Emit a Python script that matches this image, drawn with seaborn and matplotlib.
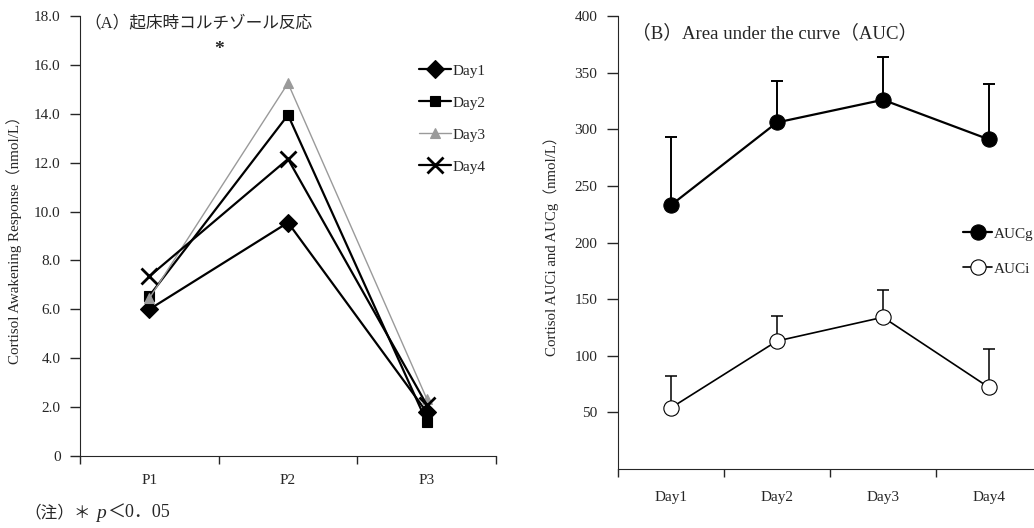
import numpy as np
import matplotlib
matplotlib.use("Agg")
import matplotlib.pyplot as plt
import seaborn as sns

# === DATA ===
points = ["P1", "P2", "P3"]
day1 = [6.0, 9.55, 1.8]
day2 = [6.55, 13.95, 1.4]
day3 = [6.45, 15.25, 2.35]
day4 = [7.35, 12.15, 2.1]

days = ["Day1", "Day2", "Day3", "Day4"]
aucg_mean = [233, 306, 326, 291]
aucg_sd = [60, 37, 38, 49]
auci_mean = [54, 113, 134, 72]
auci_sd = [28, 22, 24, 34]

ytick_vals_a = [0, 2, 4, 6, 8, 10, 12, 14, 16, 18]
ytick_labels_a = ["0", "2.0", "4.0", "6.0", "8.0", "10.0", "12.0", "14.0", "16.0", "18.0"]
ytick_vals_b = [50, 100, 150, 200, 250, 300, 350, 400]

# === STYLE ===
sns.set_style("ticks")
plt.rcParams['font.family'] = ['Liberation Serif', 'Noto Sans CJK JP']

fig = plt.figure(figsize=(10.34, 5.28), dpi=100)
W, H = 1034, 528
axA = fig.add_axes([80 / W, 1 - 456 / H, 416 / W, 440 / H])
axB = fig.add_axes([618 / W, 1 - 469 / H, 424 / W, 453 / H])

# === (A) awakening response ===
xa = np.arange(len(points))
series = [
    (day1, "Day1", "D", "black", 9, 1.6),
    (day2, "Day2", "s", "black", 7, 1.6),
    (day3, "Day3", "^", "#9a9a9a", 7, 1.0),
    (day4, "Day4", "x", "black", 11, 1.6),
]
for vals, lab, mk, col, ms, lw in series:
    sns.lineplot(x=xa, y=vals, ax=axA, color=col, marker=mk, markersize=ms,
                 linewidth=lw, markeredgecolor=col, markeredgewidth=2 if mk == "x" else 0.8,
                 label=lab)

axA.set_xlim(-0.5, len(points) - 0.5)
axA.set_ylim(0, 18)
axA.set_yticks(ytick_vals_a)
axA.set_yticklabels(ytick_labels_a)
axA.set_xticks(xa)
axA.set_xticklabels(points)
axA.set_xticks(np.arange(len(points) + 1) - 0.5, minor=True)
axA.tick_params(axis="x", which="major", length=0, pad=13, labelsize=11)
axA.tick_params(axis="x", which="minor", length=6, width=1, direction="out")
axA.tick_params(axis="y", length=7, width=1, direction="out", labelsize=11, pad=7)
axA.set_ylabel("Cortisol Awakening Response（nmol/L）", fontsize=10.8)
axA.yaxis.set_label_coords(-0.14, 0.5)
axA.text(0.5, 16.65, "*", ha="center", va="center", fontsize=14, fontweight="bold")
axA.text(-0.47, 17.7, "（A）起床時コルチゾール反応", fontsize=12, va="center", ha="left")
sns.despine(ax=axA)
axA.legend(loc="upper left", bbox_to_anchor=(419 / W, 1 - 64 / H),
           bbox_transform=fig.transFigure, frameon=False, fontsize=11,
           handlelength=2.1, handletextpad=0.1, labelspacing=1.2,
           borderpad=0, borderaxespad=0)

# === (B) AUC ===
xb = np.arange(len(days))
sns.lineplot(x=xb, y=aucg_mean, ax=axB, color="black", marker="o", markersize=11,
             linewidth=1.6, markerfacecolor="black", markeredgecolor="black", label="AUCg", zorder=3)
sns.lineplot(x=xb, y=auci_mean, ax=axB, color="black", marker="o", markersize=11,
             linewidth=1.2, markerfacecolor="white", markeredgecolor="black",
             markeredgewidth=0.8, label="AUCi", zorder=3)
axB.errorbar(xb, aucg_mean, yerr=[np.zeros(len(days)), aucg_sd], fmt="none",
             ecolor="black", elinewidth=1.4, capsize=4, capthick=1.4, zorder=2)
axB.errorbar(xb, auci_mean, yerr=[np.zeros(len(days)), auci_sd], fmt="none",
             ecolor="black", elinewidth=1.1, capsize=4, capthick=1.1, zorder=2)

axB.set_xlim(-0.5, len(days) - 0.5)
axB.set_ylim(0, 400)
axB.set_yticks(ytick_vals_b)
axB.set_xticks(xb)
axB.set_xticklabels(days)
axB.set_xticks(np.arange(len(days) + 1) - 0.5, minor=True)
axB.tick_params(axis="x", which="major", length=0, pad=16, labelsize=11)
axB.tick_params(axis="x", which="minor", length=6, width=1, direction="out")
axB.tick_params(axis="y", length=8, width=1, direction="out", labelsize=11, pad=7)
axB.set_ylabel("Cortisol AUCi and AUCg（nmol/L）", fontsize=10.7)
axB.yaxis.set_label_coords(-0.14, 0.5)
axB.text(-0.37, 385, "（B）Area under the curve（AUC）", fontsize=13.5, va="center", ha="left")
sns.despine(ax=axB)
axB.legend(loc="upper left", bbox_to_anchor=(963 / W, 1 - 227 / H),
           bbox_transform=fig.transFigure, frameon=False, fontsize=11,
           handlelength=1.9, handletextpad=0.1, labelspacing=1.4,
           borderpad=0, borderaxespad=0)

# note line: split so the CJK fallback works for the non-italic parts
fig.text(24 / W, 1 - 513 / H, "（注）＊", fontsize=12, va="center", ha="left")
fig.text(96 / W, 1 - 514 / H, "p", fontsize=14, style="italic", va="center", ha="left")
fig.text(107 / W, 1 - 513 / H, "＜0．05", fontsize=13, va="center", ha="left")

fig.savefig("out.png", dpi=100)
